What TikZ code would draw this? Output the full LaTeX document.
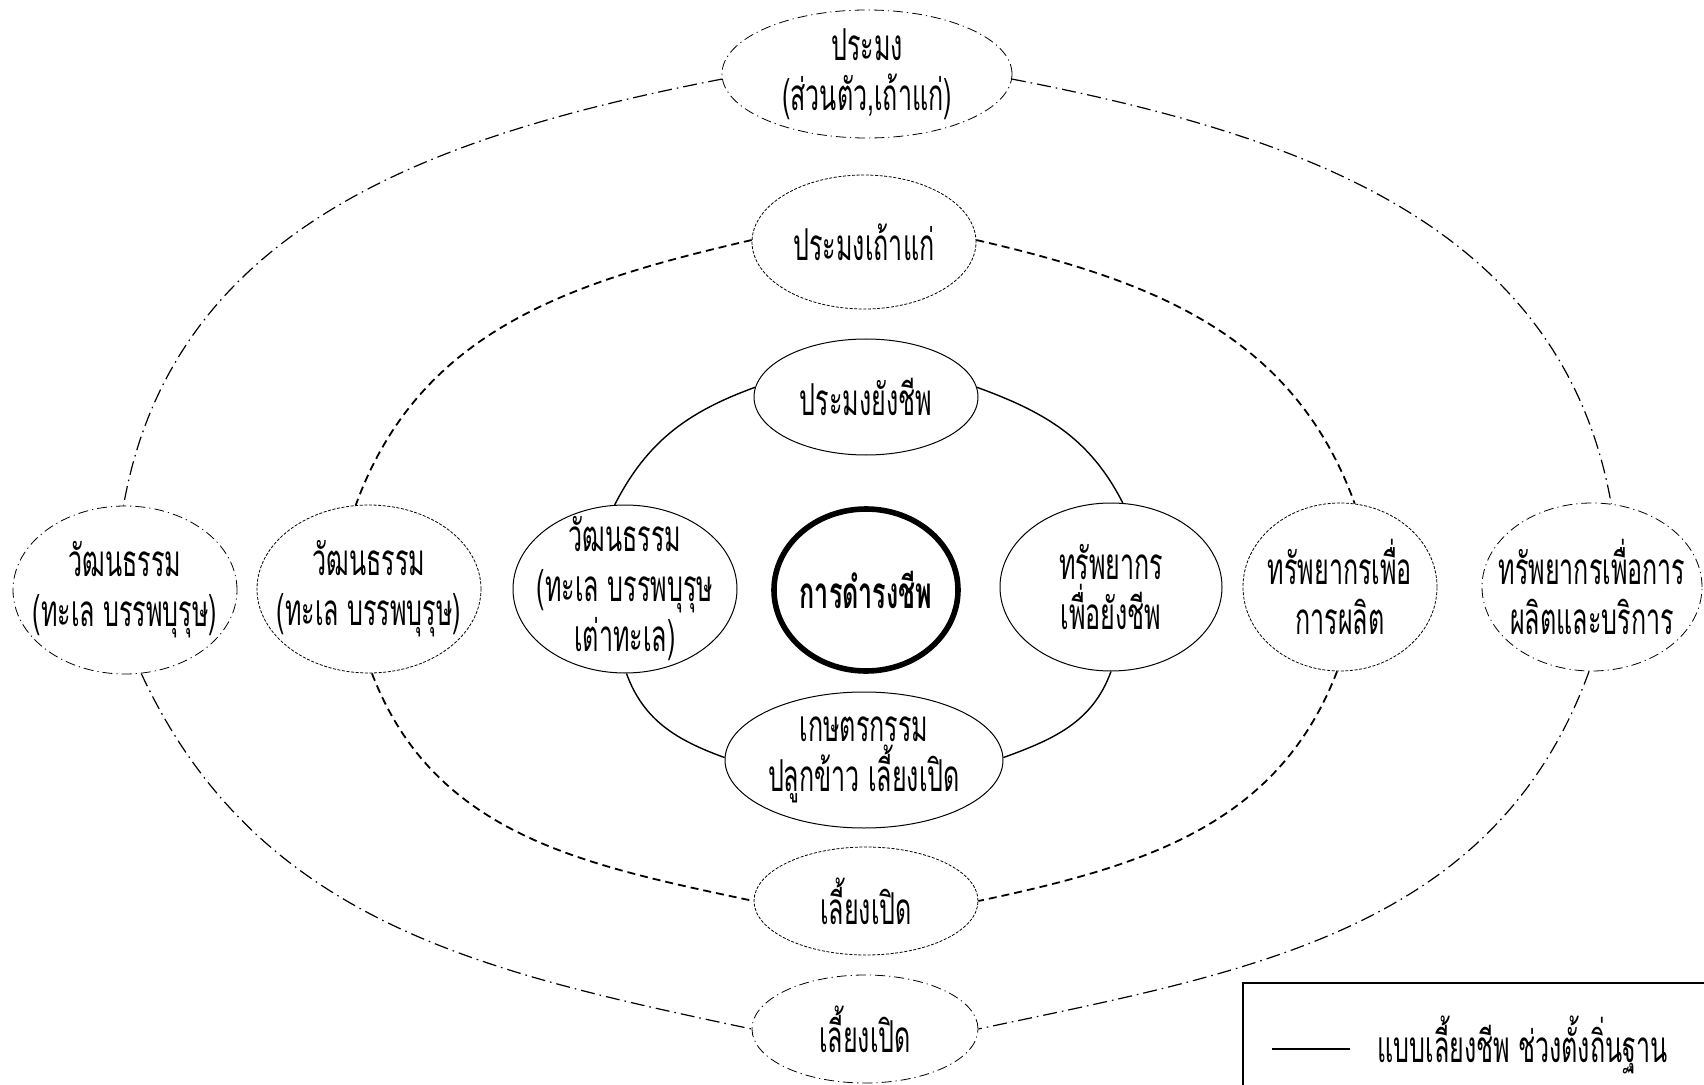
\documentclass[tikz,border=0pt]{standalone}
\usepackage{fontspec}
\newfontfamily\thaifont[Script=Thai, FakeStretch=0.57]{Loma}
\usetikzlibrary{shapes.geometric}
\setlength{\lineskiplimit}{-30pt}

\begin{document}
\begin{tikzpicture}[x=0.5pt, y=0.5pt,
    every node/.style={font=\thaifont\fontsize{22}{25}\selectfont, align=center, inner sep=0pt},
    solidnode/.style={ellipse, draw, inner sep=-40pt, line width=0.5pt},
    corenode/.style={ellipse, draw, inner sep=-40pt, line width=2.8pt},
    dashnode/.style={ellipse, draw, inner sep=-40pt, line width=0.4pt, dash pattern=on 1.5pt off 0.8pt},
    dotnode/.style={ellipse, draw, inner sep=-40pt, line width=0.4pt, dash pattern=on 5pt off 2pt on 0.6pt off 2pt},
    solidlink/.style={line width=0.7pt},
    dashlink/.style={line width=0.9pt, dash pattern=on 4pt off 2.5pt},
    dotlink/.style={line width=0.6pt, dash pattern=on 7pt off 2.5pt on 0.8pt off 2.5pt}]
  \useasboundingbox (0,0) rectangle (1704,1084);

  \node[corenode, minimum width=92pt, minimum height=81pt, font=\thaifont\bfseries\fontsize{22}{25}\selectfont] (core) at (866,494) {การดำรงชีพ};

  \node[solidnode, minimum width=112pt, minimum height=58pt] (topin) at (866,687) {ประมงยังชีพ};
  \node[solidnode, minimum width=112pt, minimum height=84pt] (leftin) at (625,495) {วัฒนธรรม\\(ทะเล บรรพบุรุษ\\เต่าทะเล)};
  \node[solidnode, minimum width=111pt, minimum height=84pt] (rightin) at (1111,497) {ทรัพยากร\\เพื่อยังชีพ};
  \node[solidnode, minimum width=139pt, minimum height=68pt] (bottomin) at (864,324) {เกษตรกรรม\\ปลูกข้าว เลี้ยงเปิด};

  \node[dashnode, minimum width=112pt, minimum height=67pt] (topmid) at (864,842) {ประมงเถ้าแก่};
  \node[dashnode, minimum width=112pt, minimum height=84pt] (leftmid) at (369,495) {วัฒนธรรม\\(ทะเล บรรพบุรุษ)};
  \node[dashnode, minimum width=97pt, minimum height=84pt] (rightmid) at (1340,497) {ทรัพยากรเพื่อ\\การผลิต};
  \node[dashnode, minimum width=112pt, minimum height=54pt] (bottommid) at (866,183) {เลี้ยงเปิด};

  \node[dotnode, minimum width=145pt, minimum height=64pt] (topout) at (867,1010) {ประมง\\(ส่วนตัว,เถ้าแก่)};
  \node[dotnode, minimum width=112pt, minimum height=84pt] (leftout) at (125,494) {วัฒนธรรม\\(ทะเล บรรพบุรุษ)};
  \node[dotnode, minimum width=110pt, minimum height=84pt] (rightout) at (1592,497) {ทรัพยากรเพื่อการ\\ผลิตและบริการ};
  \node[dotnode, minimum width=113pt, minimum height=54pt] (bottomout) at (865,55) {เลี้ยงเปิด};

  \draw[solidlink] (topin.175) to[out=200, in=63] (leftin.97);
  \draw[solidlink] (leftin.271) to[out=290, in=160] (bottomin.179);
  \draw[solidlink] (topin.5) to[out=340, in=117] (rightin.82);
  \draw[solidlink] (rightin.270) to[out=250, in=20] (bottomin.1);

  \draw[dashlink] (topmid.179) to[out=193, in=70] (leftmid.99);
  \draw[dashlink] (leftmid.272) to[out=291, in=168] (bottommid.180);
  \draw[dashlink] (topmid.1) to[out=347, in=110] (rightmid.80);
  \draw[dashlink] (rightmid.268) to[out=249, in=12] (bottommid.0);

  \draw[dotlink] (topout.182) to[out=191, in=80] (leftout.91);
  \draw[dotlink] (leftout.281) to[out=295, in=168] (bottomout.180);
  \draw[dotlink] (topout.358) to[out=349, in=100] (rightout.77);
  \draw[dotlink] (rightout.268) to[out=250, in=12] (bottomout.0);

  \draw[line width=1pt] (1720,-20) -- (1243,-20) -- (1243,101) -- (1720,101);
  \coordinate (keya) at (1272,35);
  \coordinate (keyb) at (1350,35);
  \draw[solidlink] (keya) -- (keyb);
  \node[anchor=west] (keytext) at (1377,39) {แบบเลี้ยงชีพ ช่วงตั้งถิ่นฐาน};
\end{tikzpicture}
\end{document}
